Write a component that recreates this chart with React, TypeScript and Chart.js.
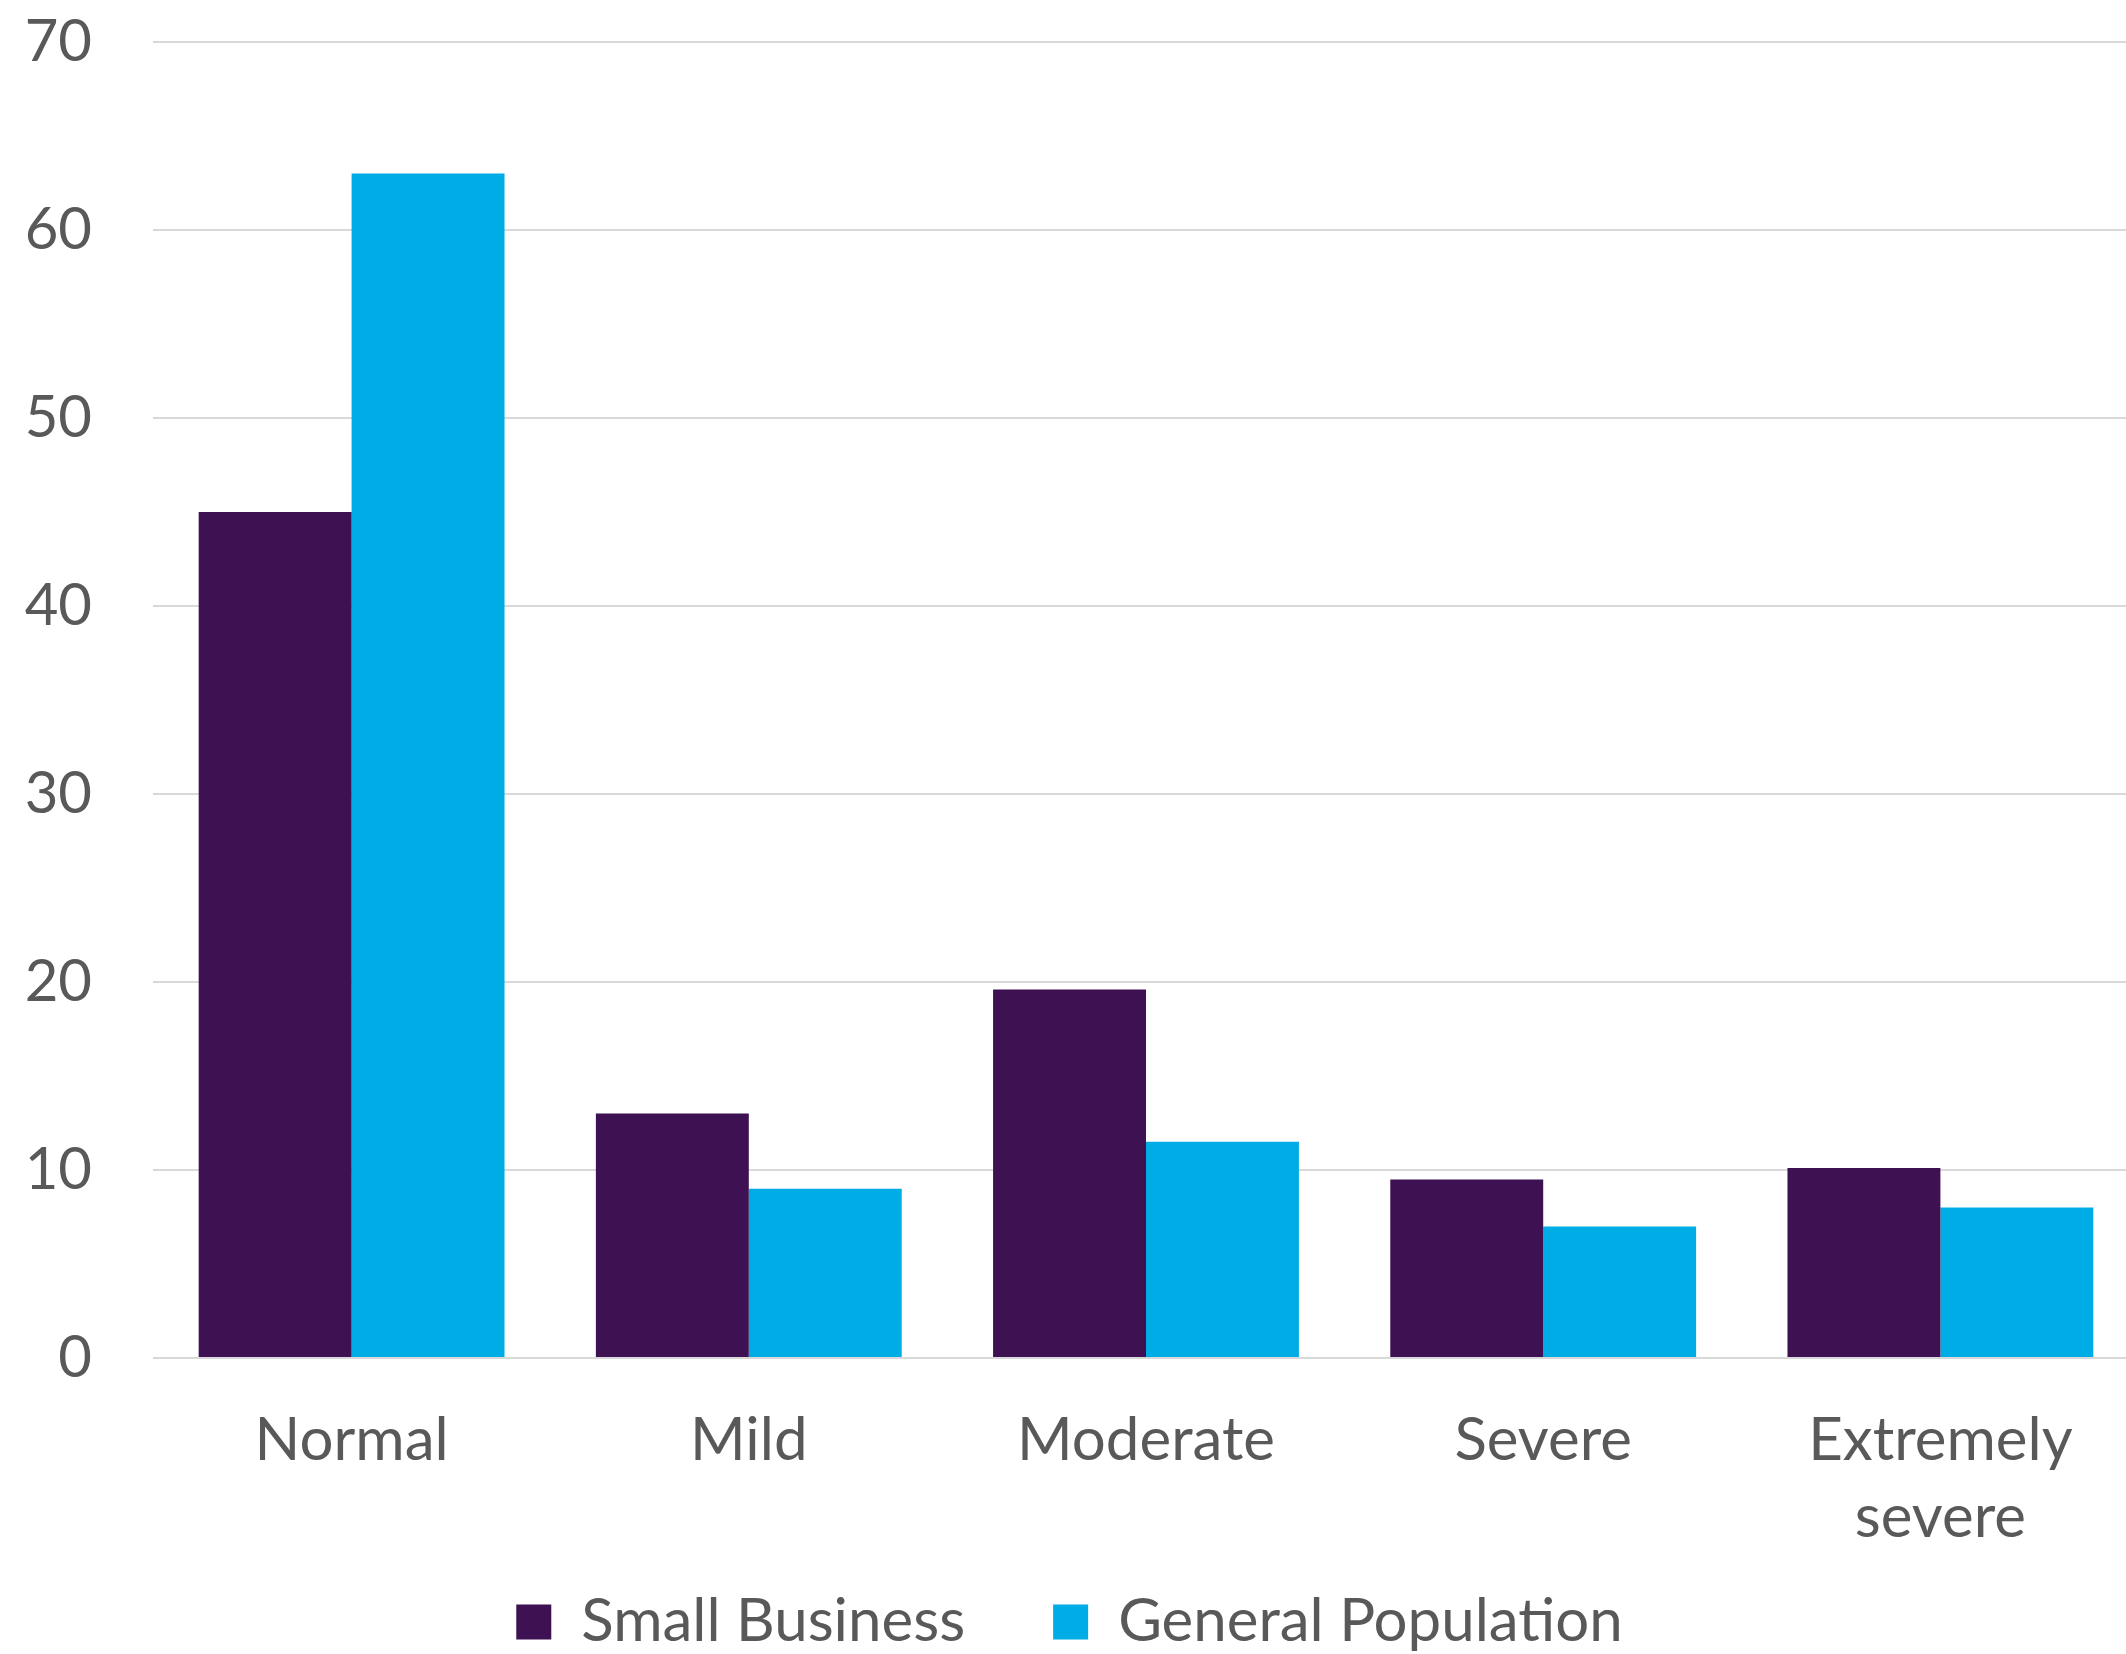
import React, { useEffect, useRef } from "react";
import { Chart, registerables } from "chart.js";

Chart.register(...registerables);

const categories: (string | string[])[] = ["Normal", "Mild", "Moderate", "Severe", ["Extremely", "severe"]];
const smallBusiness = [45, 13, 19.6, 9.5, 10.1];
const generalPopulation = [63, 9, 11.5, 7, 8];
const seriesNames = ["Small Business", "General Population"];
const yTicks = [0, 10, 20, 30, 40, 50, 60, 70];

const FONT = "Lato, 'Open Sans', sans-serif";
const TEXT = "#595959";
// the original plot runs slightly past the right edge of the picture
const CANVAS_W = 2139;
const CANVAS_H = 1654;

export default function App() {
  const ref = useRef<HTMLCanvasElement | null>(null);
  useEffect(() => {
    if (!ref.current) return;
    const chart = new Chart(ref.current, {
      type: "bar",
      data: {
        labels: categories,
        datasets: [
          {
            label: seriesNames[0],
            data: smallBusiness,
            backgroundColor: "#3D1152",
            borderWidth: 0,
            categoryPercentage: 0.77,
            barPercentage: 1,
          },
          {
            label: seriesNames[1],
            data: generalPopulation,
            backgroundColor: "#00ACE6",
            borderWidth: 0,
            categoryPercentage: 0.77,
            barPercentage: 1,
          },
        ],
      },
      options: {
        responsive: false,
        animation: false,
        maintainAspectRatio: false,
        layout: { padding: { top: 42, right: 0, left: 0, bottom: 0 } },
        plugins: {
          tooltip: { enabled: false },
          legend: {
            position: "bottom",
            maxHeight: 150,
            labels: {
              font: { family: FONT, size: 60 },
              color: TEXT,
              boxWidth: 35,
              boxHeight: 35,
              padding: 88,
            },
          },
        },
        scales: {
          x: {
            grid: { display: false, drawTicks: false },
            border: { display: false },
            afterFit: (axis: any) => {
              axis.height = 146;
              // let the two-line label run below the axis box
              axis._computeLabelArea = () => undefined;
            },
            ticks: {
              font: { family: FONT, size: 60, lineHeight: 1.29 },
              color: TEXT,
              padding: 44,
              maxRotation: 0,
              autoSkip: false,
            },
          },
          y: {
            min: 0,
            max: 70,
            afterBuildTicks: (axis: any) => {
              axis.ticks = yTicks.map((v) => ({ value: v }));
            },
            afterFit: (axis: any) => {
              axis.width = 153;
            },
            grid: {
              color: "#D9D9D9",
              lineWidth: 2,
              drawTicks: true,
              tickLength: 61,
              tickColor: "rgba(0,0,0,0)",
            },
            border: { display: false },
            ticks: {
              font: { family: FONT, size: 58 },
              color: TEXT,
              padding: 0,
            },
          },
        },
      },
    });
    return () => chart.destroy();
  }, []);
  return (
    <div
      style={{
        position: "absolute",
        left: 0,
        top: 0,
        width: 2126,
        height: 1654,
        overflow: "hidden",
        background: "#fff",
      }}
    >
      <canvas
        ref={ref}
        width={CANVAS_W}
        height={CANVAS_H}
        style={{ display: "block", width: CANVAS_W, height: CANVAS_H }}
      />
    </div>
  );
}
